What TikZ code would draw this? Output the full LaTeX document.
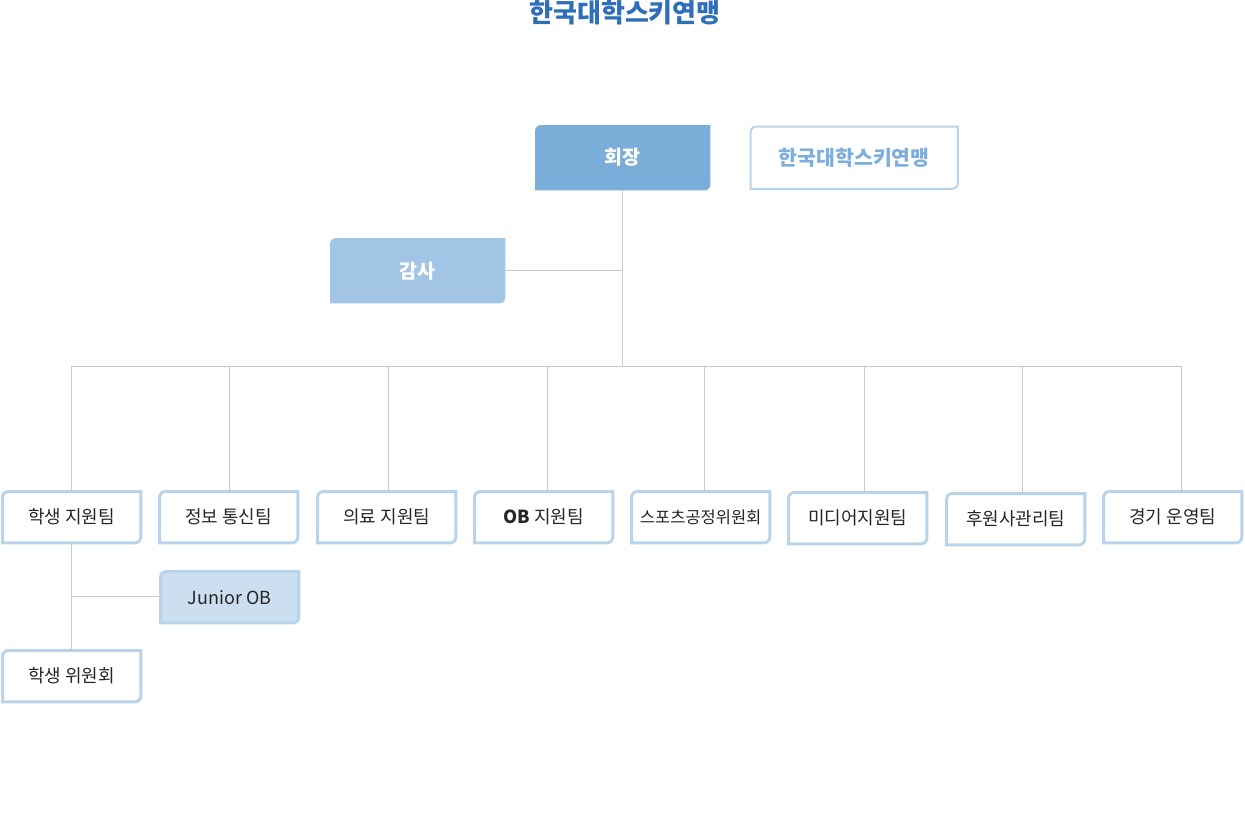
\documentclass[tikz,border=0pt]{standalone}
\usepackage{fontspec}
\setmainfont{Noto Sans CJK KR}
\usetikzlibrary{backgrounds}
\definecolor{titleblue}{HTML}{2F6FBA}
\definecolor{headblue}{HTML}{7AAED8}
\definecolor{auditblue}{HTML}{A3C5E5}
\definecolor{edgeblue}{HTML}{B8D3EA}
\definecolor{paleblue}{HTML}{CCDFF0}
\definecolor{linegray}{HTML}{C8C8C8}
\definecolor{textblue}{HTML}{7EAEDC}
% box outline: rounded top left and bottom right corners only
\newcommand{\tabshape}[1]{(#1.south west) -- ([yshift=-6pt]#1.north west) arc[start angle=180,end angle=90,radius=6pt] -- (#1.north east) -- ([yshift=6pt]#1.south east) arc[start angle=0,end angle=-90,radius=6pt] -- cycle}

\begin{document}
\begin{tikzpicture}[x=1pt,y=-1pt,
  headbox/.style={anchor=north west,minimum width=175pt,minimum height=65pt,inner sep=0pt,text=white,font=\fontsize{19.5}{21}\selectfont\bfseries},
  teambox/.style={anchor=north west,minimum width=138pt,minimum height=51pt,inner sep=0pt,text=black!85,font=\fontsize{18}{20}\selectfont},
  link/.style={draw=linegray,line width=1pt}]
\useasboundingbox (0,0) rectangle (1245,830);
\node[text=titleblue,font=\fontsize{26}{28}\selectfont\bfseries] (title) at (625,13) {한국대학스키연맹};
\node[headbox] (head) at (535,125) {회장};
\node[headbox,minimum width=207pt,minimum height=62pt,text=textblue,font=\fontsize{20.5}{22}\selectfont\bfseries] (union) at (750.5,126.5) {한국대학스키연맹};
\node[headbox] (audit) at (330,238) {감사};
\foreach \n/\x/\y/\t in {sup/2.5/491.5/학생 지원팀, info/159.5/491.5/정보 통신팀, med/317.5/491.5/의료 지원팀, ob/474.5/491.5/{{\bfseries OB} 지원팀}, fair/631.5/491.5/{{\fontsize{16.5}{18}\selectfont 스포츠공정위원회}}, media/788.5/492.5/미디어지원팀, spon/946.5/493.5/후원사관리팀, race/1103.5/491.5/경기 운영팀, jun/160.5/571.5/Junior OB, comm/2.5/650.5/학생 위원회}
  \node[teambox] (\n) at (\x,\y) {\t};
\coordinate (bus) at (622,366);
\coordinate (branch) at (71,596);
\begin{scope}[on background layer]
\fill[headblue] \tabshape{head};
\fill[auditblue] \tabshape{audit};
\fill[paleblue] \tabshape{jun};
\draw[edgeblue,line width=2pt] \tabshape{union};
\foreach \n in {sup,info,med,ob,fair,media,spon,race,jun,comm}
  \draw[edgeblue,line width=3pt] \tabshape{\n};
\draw[link] (head.south -| bus) -- (bus);
\draw[link] (audit.east) -- (audit.east -| bus);
\draw[link] ([xshift=-0.5pt]sup.north |- bus) -- ([xshift=8.5pt]race.north |- bus);
\foreach \n/\d in {sup/-0.5,info/0.5,med/1.5,ob/3.5,fair/4,media/6.5,spon/6.5,race/8.5}
  \draw[link] ([xshift=\d pt]\n.north |- bus) -- ([xshift=\d pt]\n.north);
\draw[link] (sup.south) -- (comm.north);
\draw[link] (sup.south |- branch) -- (jun.west |- branch);
\end{scope}
\end{tikzpicture}
\end{document}
